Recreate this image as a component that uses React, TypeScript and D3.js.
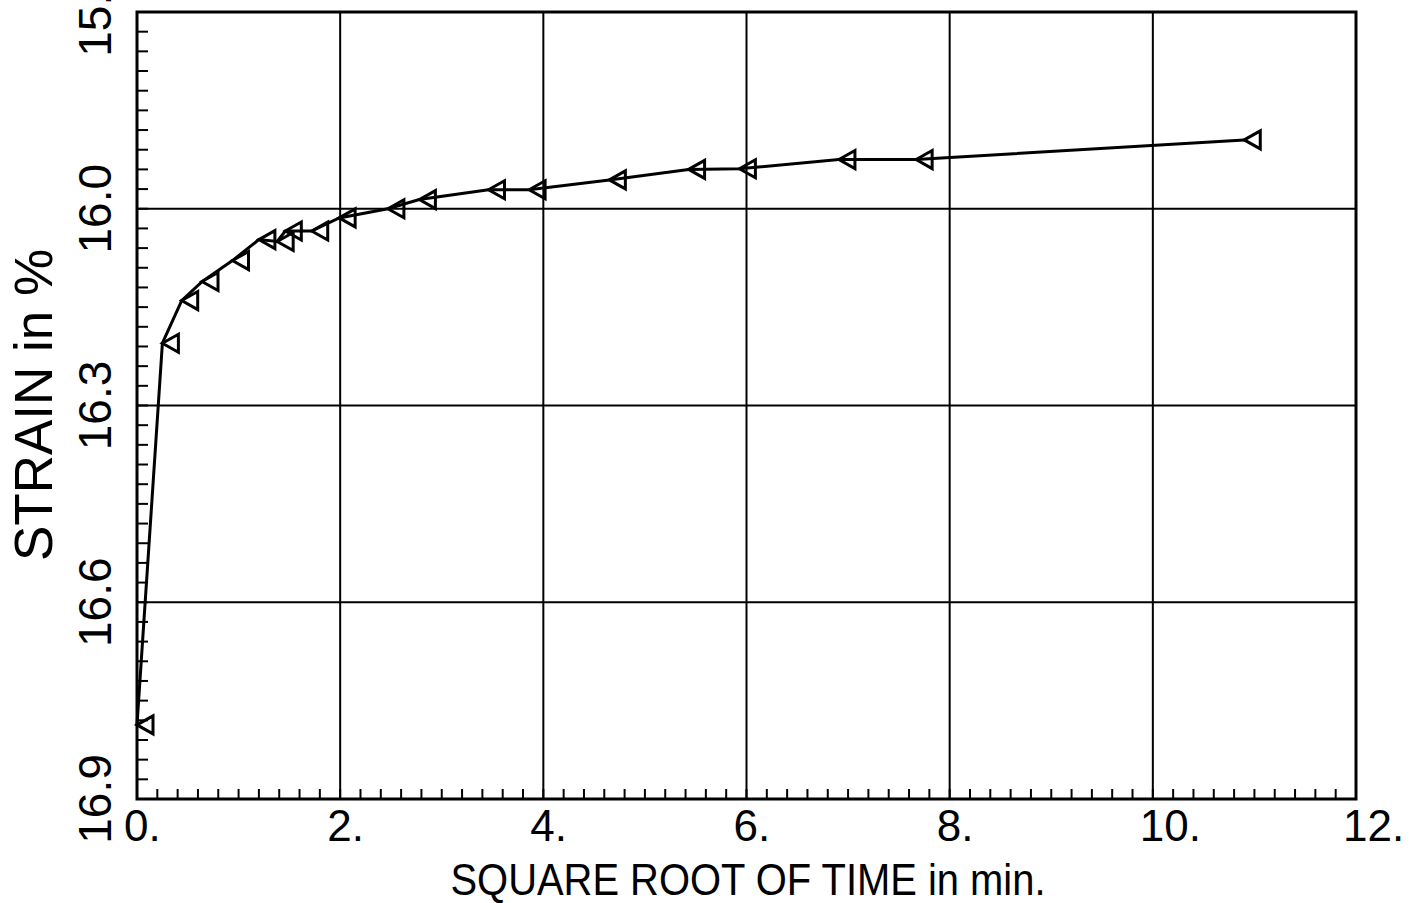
import React from "react";
import * as d3 from "d3";

// square root of time (min) vs strain (%)
const rootTime = [
  0.0, 0.25, 0.44, 0.64, 0.94, 1.2, 1.38, 1.46, 1.72, 1.99, 2.47, 2.78, 3.46,
  3.86, 4.65, 5.43, 5.93, 6.91, 7.67, 10.9,
];
const strain = [
  16.787, 16.205, 16.14, 16.111, 16.079, 16.047, 16.05, 16.034, 16.034, 16.014,
  16.0, 15.986, 15.971, 15.971, 15.956, 15.94, 15.939, 15.925, 15.925, 15.895,
];

const xTicks = [0, 2, 4, 6, 8, 10, 12];
const xTickLabels = ["0.", "2.", "4.", "6.", "8.", "10.", "12."];
const yTicks = [15.7, 16.0, 16.3, 16.6, 16.9];
const yTickLabels = ["15.7", "16.0", "16.3", "16.6", "16.9"];

const W = 1411;
const H = 903;
const left = 137;
const right = 1356;
const top = 12;
const bottom = 799;
const font = "'Liberation Sans', Arial, sans-serif";

export default function App() {
  const x = d3.scaleLinear().domain([0, 12]).range([left, right]);
  const y = d3.scaleLinear().domain([15.7, 16.9]).range([top, bottom]);

  const points = rootTime.map((t, i) => [t, strain[i]] as [number, number]);
  const line = d3
    .line<[number, number]>()
    .x((d) => x(d[0]))
    .y((d) => y(d[1]));

  const xMinor = d3.range(0, 12.001, 0.2);
  const yMinor = d3.range(15.7, 16.9001, 0.03);

  return (
    <svg
      width={W}
      height={H}
      style={{ position: "absolute", left: 0, top: 0, background: "#fff" }}
    >
      {/* grid */}
      {xTicks.slice(1, -1).map((v) => (
        <line key={"gx" + v} x1={x(v)} x2={x(v)} y1={top} y2={bottom} stroke="#000" strokeWidth={2} />
      ))}
      {yTicks.slice(1, -1).map((v) => (
        <line key={"gy" + v} x1={left} x2={right} y1={y(v)} y2={y(v)} stroke="#000" strokeWidth={2} />
      ))}

      {/* minor ticks */}
      {xMinor.map((v, i) => (
        <line key={"mx" + i} x1={x(v)} x2={x(v)} y1={bottom} y2={bottom - 10} stroke="#000" strokeWidth={2} />
      ))}
      {yMinor.map((v, i) => (
        <line key={"my" + i} x1={left} x2={left + 11} y1={y(v)} y2={y(v)} stroke="#000" strokeWidth={2} />
      ))}

      {/* frame */}
      <rect x={left} y={top} width={right - left} height={bottom - top} fill="none" stroke="#000" strokeWidth={3} />

      {/* data */}
      <path d={line(points) ?? ""} fill="none" stroke="#000" strokeWidth={3} />
      {points.map((p, i) => (
        <path
          key={"m" + i}
          transform={`translate(${x(p[0])},${y(p[1])})`}
          d="M0,0 L16,-9 L16,9 Z"
          fill="none"
          stroke="#000"
          strokeWidth={3}
          strokeLinejoin="miter"
        />
      ))}

      {/* x tick labels */}
      {xTicks.map((v, i) => (
        <text key={"xl" + v} x={x(v) - 13} y={841} fontFamily={font} fontSize={44} textAnchor="start">
          {xTickLabels[i]}
        </text>
      ))}
      <text x={748} y={895} fontFamily={font} fontSize={44} textAnchor="middle" textLength={595} lengthAdjust="spacingAndGlyphs">
        SQUARE ROOT OF TIME in min.
      </text>

      {/* y tick labels */}
      {yTicks.map((v, i) => (
        <text
          key={"yl" + v}
          transform={`translate(111,${y(v)}) rotate(-90)`}
          fontFamily={font}
          fontSize={46}
          textAnchor="middle"
        >
          {yTickLabels[i]}
        </text>
      ))}
      <text transform="translate(52,405) rotate(-90)" fontFamily={font} fontSize={53} textAnchor="middle">
        STRAIN in %
      </text>
    </svg>
  );
}
